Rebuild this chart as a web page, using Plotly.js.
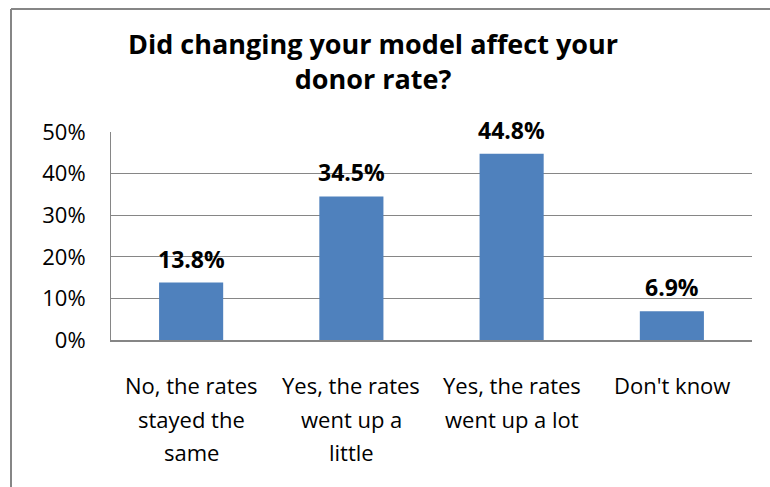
<!DOCTYPE html>
<html>
<head>
<meta charset="utf-8">
<script src="https://cdn.plot.ly/plotly-3.0.1.min.js"></script>
<style>html,body{margin:0;padding:0;background:#fff;}#chart{width:770px;height:487px;}</style>
</head>
<body>
<div id="chart"></div>
<script>
const categories = ["No, the rates stayed the same", "Yes, the rates went up a little", "Yes, the rates went up a lot", "Don't know"];
const categoryLines = [
  ["No, the rates", "stayed the", "same"],
  ["Yes, the rates", "went up a", "little"],
  ["Yes, the rates", "went up a lot"],
  ["Don't know"]
];
const values = [0.138, 0.345, 0.448, 0.069];
const valueLabels = ["13.8%", "34.5%", "44.8%", "6.9%"];
const yTickVals = [0, 0.1, 0.2, 0.3, 0.4, 0.5];
const yTickText = ["0%", "10%", "20%", "30%", "40%", "50%"];
const titleText = "Did changing your model affect your<br>donor rate?";

const FONT = "'Open Sans', sans-serif";
const annotations = [];
values.forEach((v, i) => {
  annotations.push({
    x: categories[i], y: v, xref: 'x', yref: 'y',
    text: '<b>' + valueLabels[i] + '</b>', showarrow: false,
    yanchor: 'middle', yshift: 24,
    font: {family: FONT, size: 23, color: '#000'}
  });
});
categoryLines.forEach((lines, i) => {
  lines.forEach((ln, j) => {
    annotations.push({
      x: categories[i], y: 0, xref: 'x', yref: 'paper',
      text: ln, showarrow: false, yanchor: 'middle',
      yshift: -(45 + j * 33.5),
      font: {family: FONT, size: 22, color: '#000'}
    });
  });
});

const trace = {
  type: 'bar', x: categories, y: values,
  marker: {color: '#4F81BD'},
  hoverinfo: 'none'
};

const PW = 641, PH = 208, L = 111, B = 340;
const layout = {
  width: 770, height: 487,
  margin: {l: 111, r: 18, t: 132, b: 147},
  paper_bgcolor: '#fff', plot_bgcolor: '#fff',
  font: {family: FONT, size: 22, color: '#000'},
  title: {
    text: titleText,
    font: {family: FONT, size: 27, color: '#000', weight: 'bold'},
    x: 373 / 770, xanchor: 'center', xref: 'container',
    y: 1 - 54 / 487, yanchor: 'top', yref: 'container'
  },
  showlegend: false,
  bargap: 0.6,
  xaxis: {
    showticklabels: false, ticks: '', showgrid: false, zeroline: false,
    showline: true, linecolor: '#868686', linewidth: 2, fixedrange: true
  },
  yaxis: {
    range: [0, 0.5], tickvals: yTickVals, ticktext: yTickText,
    showgrid: true, gridcolor: '#868686', gridwidth: 1,
    zeroline: false, showline: true, linecolor: '#868686', linewidth: 1,
    ticks: '', ticklabelstandoff: 20,
    tickfont: {family: FONT, size: 22, color: '#000'}, fixedrange: true
  },
  annotations: annotations,
  shapes: [
    {type: 'line', xref: 'paper', yref: 'paper',
     x0: (11 - L) / PW, x1: (780 - L) / PW, y0: (B - 9) / PH, y1: (B - 9) / PH,
     line: {color: '#868686', width: 2}, layer: 'above'},
    {type: 'line', xref: 'paper', yref: 'paper',
     x0: (11 - L) / PW, x1: (11 - L) / PW, y0: (B - 9) / PH, y1: (B - 500) / PH,
     line: {color: '#868686', width: 2}, layer: 'above'}
  ]
};

Plotly.newPlot('chart', [trace], layout, {displayModeBar: false, staticPlot: true});
</script>
</body>
</html>
